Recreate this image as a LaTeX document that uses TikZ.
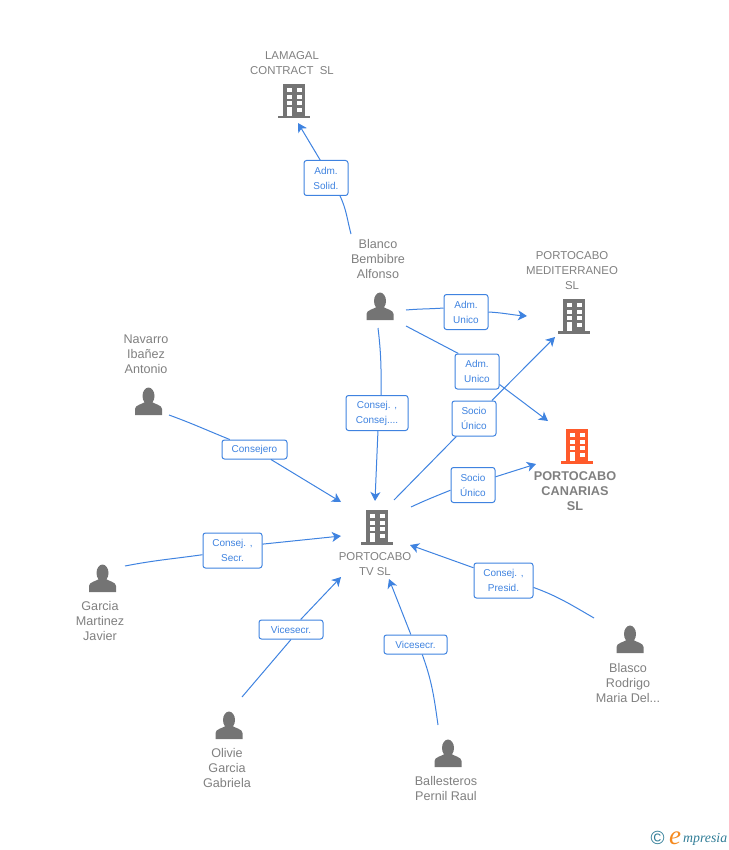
\documentclass[tikz,border=0pt]{standalone}
\usepackage{fontspec}
\setmainfont{Liberation Sans}
\newfontfamily\logofont{Liberation Serif}
\usepackage{xcolor}
\definecolor{linkblue}{HTML}{3F83E0}
\definecolor{textgrey}{HTML}{808080}
\definecolor{icongrey}{HTML}{747474}
\definecolor{iconred}{HTML}{FF5A2B}
\definecolor{logoteal}{HTML}{2F7C96}
\definecolor{logoorange}{HTML}{F58A1F}

\begin{document}
\begin{tikzpicture}[x=1pt, y=-1pt]
\usetikzlibrary{arrows.meta}
\tikzstyle{every node}=[font=\fontsize{12.6}{15}\selectfont, text=textgrey, align=center, inner sep=0pt]
\tikzstyle{firm}=[font=\fontsize{11.4}{15}\selectfont]
\tikzstyle{role}=[draw=linkblue, line width=1pt, rounded corners=2.5pt, fill=white, text=linkblue, font=\fontsize{10}{15}\selectfont, minimum width=44pt, minimum height=35pt]
\tikzstyle{roleflat}=[role, minimum height=19pt]
\tikzstyle{link}=[draw=linkblue, line width=1pt]
\tikzstyle{arrow}=[link, -{Stealth[length=9pt, width=10pt, inset=2.5pt]}]
\tikzset{
  building/.pic={
    \fill[pic actions] (-16, 15) rectangle (16, 17.5);
    \fill[pic actions] (-11, -17) rectangle (11, 15);
    \foreach \y in {-13, -6, 0} {
      \fill[white] (-7, \y) rectangle (-2, \y+4);
      \fill[white] (3, \y) rectangle (8, \y+4);
    }
    \fill[white] (3, 7) rectangle (8, 11);
    \fill[white] (-7, 6) rectangle (-2, 15);
  },
  person/.pic={
    \fill[pic actions] (0, -5) ellipse [x radius=6, y radius=8.5];
    \fill[pic actions] (-13.5, 14) -- (-13.5, 8) .. controls (-13.5, 4) and (-6, 3) .. (-3.5, 1)
      -- (3.5, 1) .. controls (6, 3) and (13.5, 4) .. (13.5, 8) -- (13.5, 14) -- cycle;
  }
}

% icons
\pic[fill=icongrey] at (294, 101) {building};
\pic[fill=icongrey] at (574, 316) {building};
\pic[fill=iconred] at (577, 446) {building};
\pic[fill=icongrey] at (377, 527) {building};
\pic[fill=icongrey] at (380, 306) {person};
\pic[fill=icongrey] at (148.5, 401) {person};
\pic[fill=icongrey] at (102.5, 578) {person};
\pic[fill=icongrey] at (229, 725) {person};
\pic[fill=icongrey] at (448, 753) {person};
\pic[fill=icongrey] at (630, 639) {person};

% names
\node[firm] (lamagal) at (292, 63.3) {LAMAGAL\\CONTRACT\ \ SL};
\node (blanco) at (378, 259) {Blanco\\Bembibre\\Alfonso};
\node[firm] (mediterraneo) at (572, 271) {PORTOCABO\\MEDITERRANEO\\SL};
\node (navarro) at (146, 354) {Navarro\\Ibañez\\Antonio};
\node[font=\fontsize{12.7}{15}\selectfont\bfseries] (canarias) at (575, 491) {PORTOCABO\\CANARIAS\\SL};
\node[firm] (tvsl) at (375, 564) {PORTOCABO\\TV SL};
\node (garcia) at (100, 621) {Garcia\\Martinez\\Javier};
\node (olivie) at (227, 768) {Olivie\\Garcia\\Gabriela};
\node (ballesteros) at (446, 788.5) {Ballesteros\\Pernil Raul};
\node (blasco) at (628, 683) {Blasco\\Rodrigo\\Maria Del...};

% roles
\node[role] (admsolid) at (326, 178) {Adm.\\Solid.};
\node[role] (admmed) at (466, 312) {Adm.\\Unico};
\node[role] (admcan) at (477, 371.5) {Adm.\\Unico};
\node[role, minimum width=62pt] (consejtv) at (377, 413) {Consej. ,\\Consej....};
\node[role] (sociomed) at (474, 418.5) {Socio\\Único};
\node[role] (sociocan) at (473, 485) {Socio\\Único};
\node[roleflat, minimum width=65pt] (consejero) at (254.5, 449.5) {Consejero};
\node[role, minimum width=59pt] (consejsecr) at (232.5, 550.5) {Consej. ,\\Secr.};
\node[role, minimum width=59pt] (consejpres) at (503.5, 580.5) {Consej. ,\\Presid.};
\node[roleflat, minimum width=64pt] (viceolivie) at (291, 629.5) {Vicesecr.};
\node[roleflat, minimum width=63pt] (viceball) at (415.5, 644.5) {Vicesecr.};

% free ends
\coordinate (blancotop) at (351, 234);
\coordinate (lamagalin) at (298, 123);
\coordinate (blancoright) at (406, 310);
\coordinate (medin) at (527, 316);
\coordinate (blancolow) at (406, 326);
\coordinate (canin) at (548, 421);
\coordinate (blancodown) at (378, 328);
\coordinate (tvtop) at (375, 501);
\coordinate (tvright) at (394, 500);
\coordinate (medlow) at (555, 337);
\coordinate (tvside) at (411, 507);
\coordinate (canside) at (536, 464);
\coordinate (navarroout) at (169, 415);
\coordinate (tvleft) at (341, 502);
\coordinate (garciaout) at (125, 566);
\coordinate (tvmid) at (341, 536);
\coordinate (olivieout) at (242, 697);
\coordinate (tvlow) at (341, 577);
\coordinate (ballout) at (438, 725);
\coordinate (tvbelow) at (389, 579);
\coordinate (blascoout) at (594, 618);
\coordinate (tvflank) at (410, 545);

\draw[link] (blancotop) to [out=105, in=-65] (admsolid.-52);
\draw[arrow] (admsolid.108) -- (lamagalin);
\draw[link] (blancoright) to [out=5, in=-176] (admmed.170);
\draw[arrow] (admmed.east) to [out=-3, in=176] (medin);
\draw[link] (blancolow) -- (admcan.136);
\draw[arrow] (admcan.-30) -- (canin);
\draw[link] (blancodown) to [out=-83, in=90] (consejtv.77);
\draw[arrow] (consejtv.-87) -- (tvtop);
\draw[link] (tvright) -- (sociomed);
\draw[arrow] (sociomed) -- (medlow);
\draw[link] (tvside) to [out=25, in=-158] (sociocan.-167);
\draw[arrow] (sociocan.20) -- (canside);
\draw[link] (navarroout) to [out=-20, in=158] (consejero);
\draw[arrow] (consejero) -- (tvleft);
\draw[link] (garciaout) to [out=11, in=-172] (consejsecr);
\draw[arrow] (consejsecr.12) -- (tvmid);
\draw[link] (olivieout) -- (viceolivie.south);
\draw[arrow] (viceolivie.46) -- (tvlow);
\draw[link] (ballout) to [out=98, in=-70] (viceball.-56);
\draw[arrow] (viceball.115) -- (tvbelow);
\draw[link] (blascoout) to [out=150, in=-20] (consejpres.-13);
\draw[arrow] (consejpres.157) -- (tvflank);

% logo
\node[text=logoteal, font=\fontsize{19}{19}\selectfont] (logomark) at (657.5, 838) {©};
\node[text=logoorange, font=\logofont\itshape\fontsize{27}{27}\selectfont] (logoe) at (675, 838) {e};
\node[text=logoteal, font=\logofont\itshape\fontsize{13.8}{15}\selectfont, anchor=west] (logoname) at (683, 839) {mpresia};

\useasboundingbox (0, 0) rectangle (728, 850);
\end{tikzpicture}
\end{document}
